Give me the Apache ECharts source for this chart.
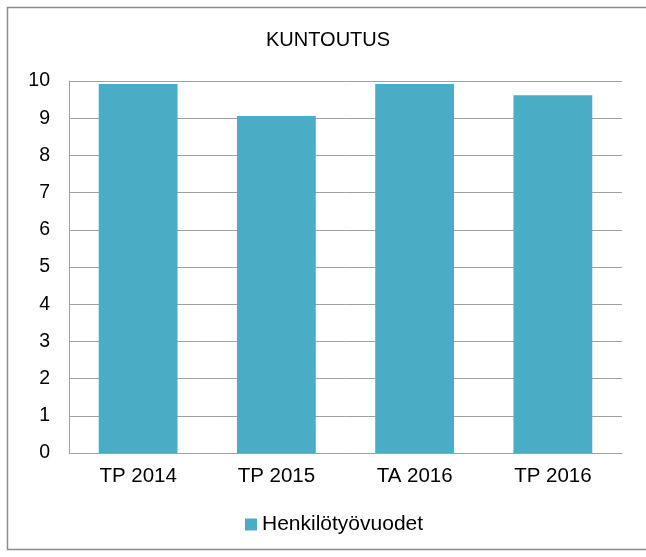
<!DOCTYPE html>
<html><head><meta charset="utf-8">
<script src="https://cdn.jsdelivr.net/npm/echarts@6/dist/echarts.min.js"></script>
<style>html,body{margin:0;padding:0;background:#fff}#c{width:646px;height:557px}</style>
</head><body><div id="c"></div>
<script>
const categories = ['TP 2014', 'TP 2015', 'TA 2016', 'TP 2016'];
const henkilotyovuodet = [9.92, 9.06, 9.92, 9.62];
const seriesName = 'Henkilötyövuodet';
const titleText = 'KUNTOUTUS';

const chart = echarts.init(document.getElementById('c'));
chart.setOption({
  animation: false,
  backgroundColor: '#fff',
  graphic: [{
    type: 'rect', shape: {x: 7.5, y: 7.5, width: 660, height: 542},
    style: {fill: 'none', stroke: '#8c8c8c', lineWidth: 1.5}, silent: true
  }],
  title: {
    text: titleText, left: 266, top: 30, padding: 0,
    textStyle: {fontFamily: 'Liberation Sans', fontSize: 20, fontWeight: 'normal', color: '#000', lineHeight: 20}
  },
  grid: {left: 69, right: 24, top: 81, bottom: 104, containLabel: false},
  xAxis: {
    type: 'category', data: categories,
    axisLine: {lineStyle: {color: '#a0a0a0', width: 1}},
    axisTick: {show: false},
    axisLabel: {fontFamily: 'Liberation Sans', fontSize: 20.5, color: '#000', margin: 13}
  },
  yAxis: {
    type: 'value', min: 0, max: 10, interval: 1,
    axisLine: {show: true, lineStyle: {color: '#a0a0a0', width: 1}},
    axisTick: {show: false},
    splitLine: {lineStyle: {color: '#a0a0a0', width: 1}},
    axisLabel: {fontFamily: 'Liberation Sans', fontSize: 19.5, color: '#000', margin: 19}
  },
  legend: {
    bottom: 22, left: 245, padding: 0, itemWidth: 12, itemHeight: 12, itemGap: 4,
    icon: 'rect',
    textStyle: {fontFamily: 'Liberation Sans', fontSize: 21, color: '#000', padding: [0,0,0,0]},
    data: [seriesName]
  },
  series: [{
    name: seriesName, type: 'bar', data: henkilotyovuodet,
    barWidth: '57%',
    itemStyle: {color: '#4bacc6'}
  }]
});
</script></body></html>
